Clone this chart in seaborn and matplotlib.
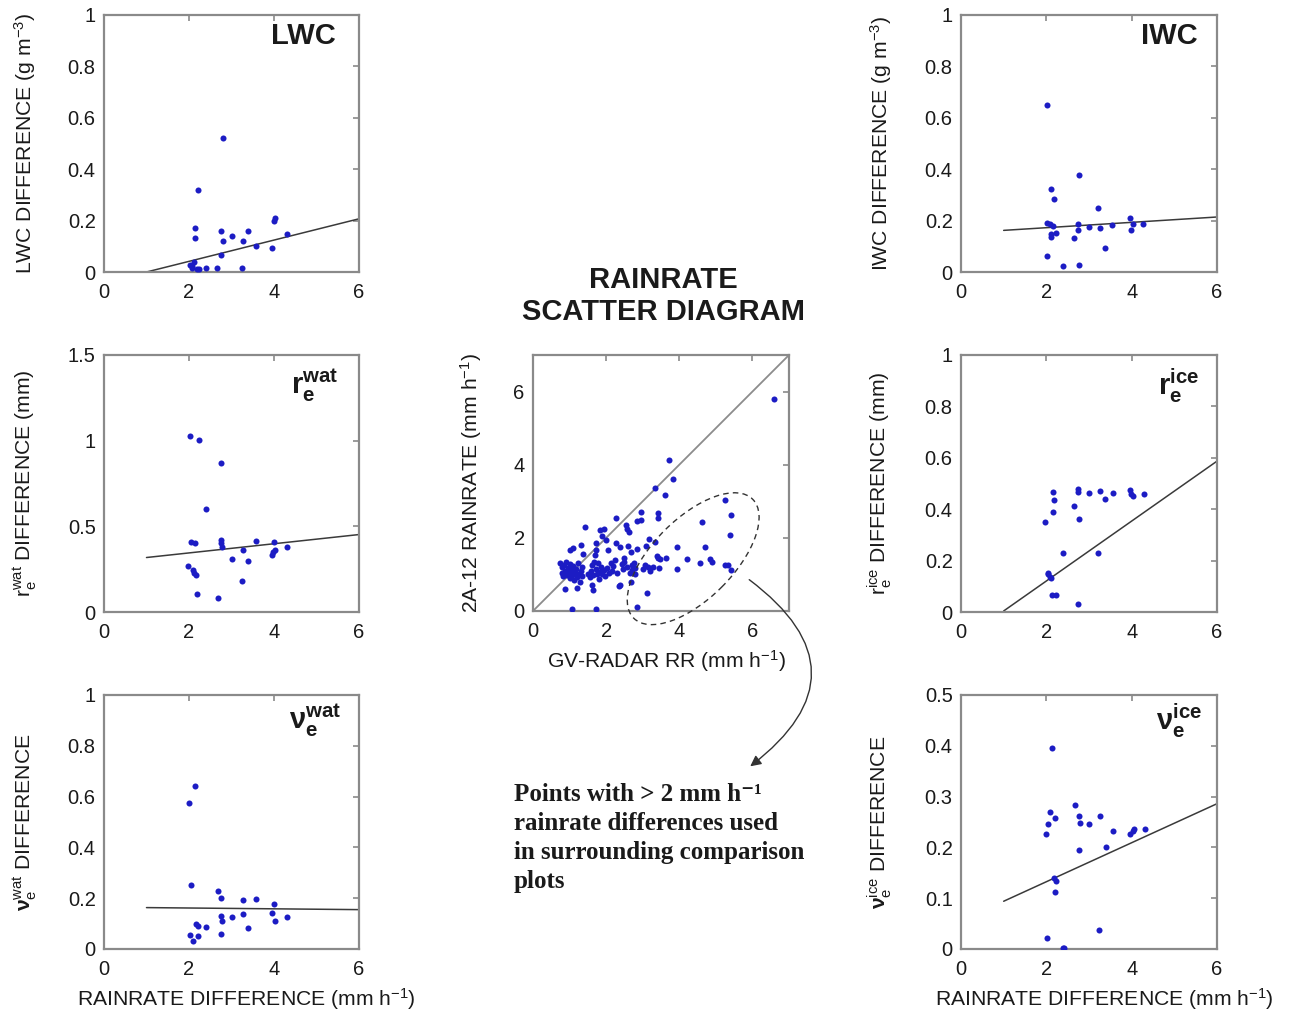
import matplotlib
matplotlib.use("Agg")
import matplotlib.pyplot as plt
from matplotlib.patches import Ellipse
from matplotlib.ticker import FuncFormatter, MultipleLocator
import seaborn as sns

# ---------------- data ----------------
# rain-rate difference (mm/h) vs. microphysical differences, cases with > 2 mm/h
lwc_x = [2.79, 2.20, 2.15, 2.15, 2.76, 2.79, 3.01, 3.27, 3.39, 3.58, 2.76, 3.96,
         4.00, 4.03, 4.31, 2.02, 2.08, 2.12, 2.07, 2.18, 2.24, 2.41, 2.66, 3.25]
lwc_y = [0.52, 0.32, 0.17, 0.133, 0.16, 0.12, 0.14, 0.12, 0.16, 0.10, 0.066, 0.093,
         0.20, 0.21, 0.148, 0.026, 0.022, 0.04, 0.015, 0.01, 0.01, 0.014, 0.014, 0.014]

iwc_x = [2.01, 2.12, 2.19, 2.76, 2.01, 2.08, 2.15, 2.12, 2.22, 2.12, 2.65, 2.75, 2.75,
         2.99, 3.21, 3.25, 3.37, 3.55, 3.95, 3.98, 4.02, 4.27, 2.01, 2.38, 2.76]
iwc_y = [0.649, 0.323, 0.283, 0.379, 0.192, 0.187, 0.18, 0.149, 0.152, 0.136, 0.132,
         0.186, 0.162, 0.177, 0.248, 0.173, 0.092, 0.181, 0.212, 0.162, 0.188, 0.188,
         0.062, 0.023, 0.026]

rwat_x = [2.02, 2.23, 2.75, 2.40, 2.04, 2.15, 2.75, 2.75, 2.78, 3.01, 3.27, 3.39, 3.58,
          3.99, 3.98, 4.02, 3.95, 4.31, 1.98, 2.10, 2.12, 2.16, 2.19, 2.68, 3.25]
rwat_y = [1.027, 1.003, 0.869, 0.602, 0.411, 0.405, 0.423, 0.403, 0.38, 0.312, 0.364,
          0.298, 0.417, 0.407, 0.351, 0.36, 0.335, 0.378, 0.269, 0.244, 0.228, 0.216,
          0.105, 0.084, 0.179]

rice_x = [2.15, 2.18, 2.15, 1.98, 2.65, 2.75, 2.75, 2.77, 2.99, 3.25, 3.37, 3.56, 3.95,
          3.99, 4.02, 4.28, 2.38, 3.21, 2.03, 2.08, 2.05, 2.12, 2.14, 2.22, 2.75]
rice_y = [0.465, 0.4375, 0.39, 0.352, 0.413, 0.477, 0.466, 0.361, 0.462, 0.469, 0.439,
          0.462, 0.473, 0.46, 0.453, 0.458, 0.23, 0.23, 0.147, 0.137, 0.15, 0.134,
          0.065, 0.065, 0.03]

nwat_x = [2.00, 2.13, 2.04, 2.69, 2.75, 2.75, 2.78, 3.01, 3.26, 3.27, 3.39, 3.58, 4.01,
          3.95, 4.02, 4.31, 2.02, 2.10, 2.16, 2.22, 2.20, 2.41, 2.76]
nwat_y = [0.575, 0.643, 0.251, 0.227, 0.2, 0.131, 0.111, 0.125, 0.136, 0.192, 0.081,
          0.196, 0.176, 0.142, 0.111, 0.127, 0.055, 0.031, 0.099, 0.089, 0.052, 0.085,
          0.059]

nice_x = [2.13, 2.09, 2.20, 2.05, 2.00, 2.67, 2.76, 2.78, 3.00, 3.25, 3.56, 3.39, 2.76,
          3.97, 4.02, 4.05, 4.31, 2.17, 2.22, 2.20, 2.02, 2.39, 2.42, 3.24]
nice_y = [0.395, 0.269, 0.258, 0.246, 0.227, 0.284, 0.261, 0.249, 0.246, 0.261, 0.232,
          0.2, 0.194, 0.227, 0.233, 0.236, 0.237, 0.14, 0.134, 0.112, 0.022, 0.002,
          0.001, 0.037]

# linear fits, evaluated at the ends of the fit range
fit_x = [1, 6]
lwc_fit = [0.0, 0.207]
iwc_fit = [0.162, 0.214]
rwat_fit = [0.318, 0.452]
rice_fit = [0.004, 0.587]
nwat_fit = [0.163, 0.155]
nice_fit = [0.094, 0.286]

# GV radar rain rate vs. 2A-12 rain rate (mm/h)
gv_rr = [0.75, 0.78, 0.80, 0.82, 0.85, 0.88, 0.90, 0.92, 0.95, 0.97, 1.00, 1.02, 1.05,
         1.08, 1.10, 1.12, 1.15, 1.18, 1.20, 1.22, 1.25, 1.28, 1.30, 1.33, 1.35,
         0.88, 1.19, 1.02, 1.09, 1.32, 1.38, 1.43, 1.08,
         1.50, 1.55, 1.58, 1.62, 1.65, 1.68, 1.70, 1.71, 1.73, 1.72, 1.75, 1.78, 1.80,
         1.82, 1.83, 1.85, 1.88, 1.90, 1.93, 1.95, 1.98, 2.00, 2.02, 2.05, 2.08, 1.64,
         1.72, 1.60,
         2.12, 2.15, 2.20, 2.26, 2.27, 2.30, 2.34, 2.38, 2.39, 2.42, 2.45, 2.50, 2.53,
         2.56, 2.58, 2.61, 2.62, 2.65, 2.67, 2.68, 2.70, 2.72, 2.75, 2.78, 2.80, 2.85,
         2.85, 2.85, 2.50, 2.25,
         2.95, 2.95, 3.00, 3.05, 3.10, 3.13, 3.14, 3.17, 3.20, 3.28, 3.33, 3.34, 3.40,
         3.42, 3.42, 3.42, 3.45, 3.48,
         3.61, 3.63, 3.71, 3.83, 3.94, 3.95, 4.22, 4.57, 4.63, 4.71, 4.83, 4.90, 5.24,
         5.25, 5.34, 5.40, 5.41, 5.41, 6.60]
pr_rr = [1.30, 1.20, 1.05, 0.95, 1.25, 1.10, 1.35, 0.98, 1.18, 1.05, 0.90, 1.28, 1.12,
         0.98, 1.22, 0.85, 1.05, 1.15, 0.92, 1.30, 1.00, 0.80, 1.10, 0.95, 1.20,
         0.61, 0.64, 1.68, 1.72, 1.81, 1.56, 2.30, 0.05,
         1.00, 0.92, 1.10, 1.25, 0.98, 1.35, 1.53, 1.86, 1.68, 1.15, 1.02, 1.30, 0.88,
         1.08, 2.21, 1.20, 1.00, 2.05, 2.24, 1.12, 0.95, 1.95, 1.18, 1.68, 1.05, 0.58,
         0.05, 0.72,
         1.30, 1.10, 1.22, 1.85, 2.54, 1.05, 0.68, 0.70, 1.74, 1.28, 1.15, 1.35, 2.35,
         2.24, 1.20, 1.79, 2.15, 1.05, 1.60, 0.80, 1.25, 1.12, 1.30, 1.00, 1.18, 1.70,
         2.47, 0.10, 1.45, 1.40,
         2.72, 2.50, 1.15, 1.25, 1.78, 0.49, 1.20, 1.97, 1.10, 1.20, 3.36, 1.88, 1.51,
         2.69, 2.54, 1.46, 1.18, 1.42,
         3.17, 1.45, 4.13, 3.60, 1.15, 1.76, 1.42, 1.31, 2.44, 1.74, 1.42, 1.33, 3.03,
         1.26, 1.26, 2.08, 2.63, 1.11, 5.80]
one_to_one = [0, 7]

# ---------------- style ----------------
sns.set_style("white")
plt.rcParams["font.family"] = ["Liberation Sans", "DejaVu Sans"]
plt.rcParams["mathtext.fontset"] = "custom"
plt.rcParams["mathtext.rm"] = "Liberation Sans"
plt.rcParams["mathtext.it"] = "Liberation Sans"
plt.rcParams["mathtext.bf"] = "Liberation Sans:bold"

W, H = 1292, 1010
DOT = "#1c1cc4"
FRAME = "#8a8a8a"
TXT = "#1a1a1a"
TICK_FS = 14.5
LAB_FS = 15.2

fig = plt.figure(figsize=(W / 100, H / 100), dpi=100)
fig.patch.set_facecolor("white")


def add_ax(left, top, right, bottom):
    return fig.add_axes([left / W, 1 - bottom / H, (right - left) / W, (bottom - top) / H])


fmt = FuncFormatter(lambda v, p: f"{v:g}")


def style(ax, xlim, ylim, xstep, ystep):
    ax.set_xlim(*xlim)
    ax.set_ylim(*ylim)
    ax.xaxis.set_major_locator(MultipleLocator(xstep))
    ax.yaxis.set_major_locator(MultipleLocator(ystep))
    ax.xaxis.set_major_formatter(fmt)
    ax.yaxis.set_major_formatter(fmt)
    for s in ax.spines.values():
        s.set_visible(True)
        s.set_color(FRAME)
        s.set_linewidth(1.6)
    ax.tick_params(direction="in", length=4, width=1.2, color=FRAME,
                   top=True, right=True, labelsize=TICK_FS, labelcolor=TXT)
    ax.tick_params(axis="x", pad=8)
    ax.tick_params(axis="y", pad=6)
    ax.set_facecolor("white")


def panel(box, xs, ys, fit, ylim, ystep, ylabel, title, title_xy, ylab_x, xlabel=None):
    ax = add_ax(*box)
    sns.lineplot(x=fit_x, y=fit, ax=ax, color="#3a3a3a", linewidth=1.1)
    sns.scatterplot(x=xs, y=ys, ax=ax, color=DOT, s=19, linewidth=0, zorder=3)
    style(ax, (0, 6), ylim, 2, ystep)
    ax.set_ylabel(ylabel, fontsize=LAB_FS, color=TXT)
    ax.yaxis.set_label_coords(ylab_x, 0.5)
    if xlabel:
        ax.set_xlabel(xlabel, fontsize=LAB_FS, color=TXT)
        ax.xaxis.set_label_coords(0.56, -0.148)
    else:
        ax.set_xlabel("")
    ax.text(title_xy[0], title_xy[1], title, transform=ax.transAxes, ha="right",
            va="center", fontsize=21, fontweight="bold", color=TXT)
    return ax


rr_label = r"RAINRATE DIFFERENCE (mm h$^{-1}$)"

panel((104, 15, 359, 272), lwc_x, lwc_y, lwc_fit, (0, 1), 0.2,
      r"LWC DIFFERENCE (g m$^{-3}$)", "LWC", (0.91, 0.92), -0.26)
panel((961, 15, 1217, 272), iwc_x, iwc_y, iwc_fit, (0, 1), 0.2,
      r"IWC DIFFERENCE (g m$^{-3}$)", "IWC", (0.925, 0.92), -0.26)
panel((104, 355, 359, 612), rwat_x, rwat_y, rwat_fit, (0, 1.5), 0.5,
      r"r$_\mathrm{e}^\mathrm{wat}$ DIFFERENCE (mm)", r"$\mathbf{r_e^{wat}}$",
      (0.92, 0.88), -0.26)
panel((961, 355, 1217, 612), rice_x, rice_y, rice_fit, (0, 1), 0.2,
      r"r$_\mathrm{e}^\mathrm{ice}$ DIFFERENCE (mm)", r"$\mathbf{r_e^{ice}}$",
      (0.93, 0.88), -0.26)
panel((104, 695, 359, 949), nwat_x, nwat_y, nwat_fit, (0, 1), 0.2,
      r"$\mathbf{\nu}_\mathrm{e}^\mathrm{wat}$ DIFFERENCE", r"$\mathbf{\nu_e^{wat}}$",
      (0.93, 0.9), -0.26, rr_label)
panel((961, 695, 1217, 949), nice_x, nice_y, nice_fit, (0, 0.5), 0.1,
      r"$\mathbf{\nu}_\mathrm{e}^\mathrm{ice}$ DIFFERENCE", r"$\mathbf{\nu_e^{ice}}$",
      (0.94, 0.9), -0.26, rr_label)

# central rain-rate scatter diagram
axc = add_ax(533, 355, 789, 611)
sns.lineplot(x=one_to_one, y=one_to_one, ax=axc, color="#8c8c8c", linewidth=1.3)
sns.scatterplot(x=gv_rr, y=pr_rr, ax=axc, color=DOT, s=19, linewidth=0, zorder=3)
style(axc, (0, 7), (0, 7), 2, 2)
axc.set_xlabel(r"GV-RADAR RR (mm h$^{-1}$)", fontsize=LAB_FS, color=TXT)
axc.xaxis.set_label_coords(0.52, -0.145)
axc.set_ylabel(r"2A-12 RAINRATE (mm h$^{-1}$)", fontsize=LAB_FS, color=TXT)
axc.yaxis.set_label_coords(-0.19, 0.5)

# dashed outline around the large-difference cases
axc.add_patch(Ellipse((4.38, 1.43), 4.6, 2.2, angle=45, fill=False,
                      linestyle=(0, (4, 3)), edgecolor="#333333", linewidth=1.0,
                      clip_on=False, zorder=4))

fig.text(663 / W, 1 - 296 / H, "RAINRATE\nSCATTER DIAGRAM", ha="center", va="center",
         fontsize=21, fontweight="bold", color=TXT, linespacing=1.22)

# curved pointer from the outlined cases to the note
axc.annotate("", xy=(748, H - 768), xytext=(747, H - 578),
             xycoords="figure pixels", textcoords="figure pixels",
             arrowprops=dict(arrowstyle="-|>", color="#333333", lw=1.0,
                             mutation_scale=16,
                             connectionstyle="arc3,rad=-0.67"),
             annotation_clip=False)

fig.text(514 / W, 1 - 783 / H,
         "Points with > 2 mm h\u207b\u00b9\nrainrate differences used\n"
         "in surrounding comparison\nplots",
         ha="left", va="top", fontsize=18, fontweight="bold", color=TXT,
         family=["Liberation Serif", "DejaVu Serif"], linespacing=1.34)

fig.savefig("out.png", dpi=100, facecolor="white")
